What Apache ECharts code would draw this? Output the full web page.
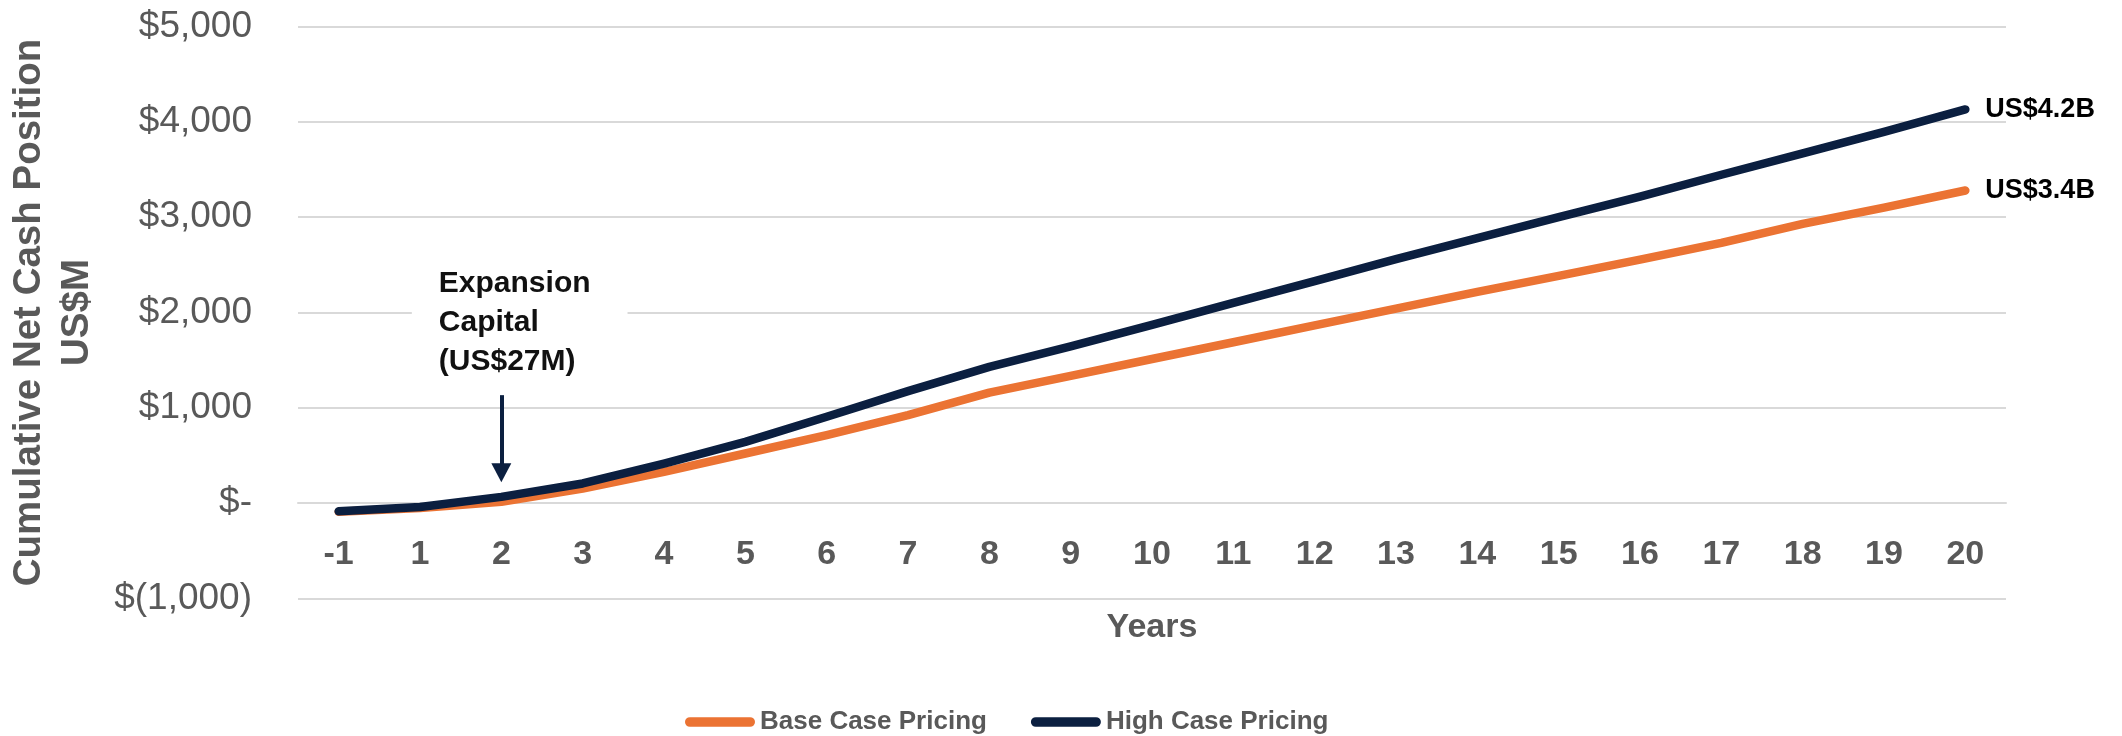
<!DOCTYPE html>
<html>
<head>
<meta charset="utf-8">
<script src="https://cdn.jsdelivr.net/npm/echarts@6/dist/echarts.min.js"></script>
<style>
  html, body { margin: 0; padding: 0; background: #ffffff; }
  #chart { width: 2122px; height: 736px; }
</style>
</head>
<body>
<div id="chart"></div>
<script>
// ---- Data ----
const years = ['-1','1','2','3','4','5','6','7','8','9','10','11','12','13','14','15','16','17','18','19','20'];
const baseCase = [-90, -50, 14, 154, 329, 521, 713, 923, 1160, 1336, 1512, 1688, 1865, 2041, 2217, 2385, 2555, 2730, 2930, 3100, 3280];
const highCase = [-85, -40, 66, 207, 416, 643, 906, 1175, 1430, 1645, 1870, 2100, 2330, 2560, 2780, 3000, 3215, 3445, 3670, 3895, 4130];
const seriesNames = ['Base Case Pricing', 'High Case Pricing'];
const endLabels = ['US$3.4B', 'US$4.2B'];
const annotationText = ['Expansion', 'Capital', '(US$27M)'];
const annotationYear = '2';
const arrowFrom = 1133;
const arrowTo = 320;
const yMin = -1000, yMax = 5000, yStep = 1000;

const FONT = "'Liberation Sans', Arial, sans-serif";
const GRAY = '#595959';
const ORANGE = '#EB7333';
const NAVY = '#0b1f40';

function fmtY(v) {
  if (v === 0) return '$-';
  const s = Math.abs(v).toLocaleString('en-US');
  return v < 0 ? '$(' + s + ')' : '$' + s;
}

const annIdx = years.indexOf(annotationYear);
const capsule = 'path://M5,0 L67,0 A5,5 0 0 1 67,10 L5,10 A5,5 0 0 1 5,0 Z';

const gridTop = 26.5, gridBottom = 137.5, chartH = 736;
const gridH = chartH - gridTop - gridBottom;
// move category axis up to the zero line of the value axis
const zeroOffset = -gridH * (0 - yMin) / (yMax - yMin);

const chart = echarts.init(document.getElementById('chart'), null, { renderer: 'canvas' });
chart.setOption({
  animation: false,
  backgroundColor: '#ffffff',
  textStyle: { fontFamily: FONT },
  grid: { left: 298, right: 116, top: gridTop, bottom: gridBottom, containLabel: false, outerBoundsMode: 'none' },
  legend: {
    data: seriesNames,
    left: 685, top: 709,
    itemWidth: 70, itemHeight: 10, itemGap: 44,
    padding: 0,
    icon: capsule,
    textStyle: { fontFamily: FONT, fontSize: 26, fontWeight: 'bold', color: GRAY }
  },
  xAxis: {
    type: 'category',
    data: years,
    boundaryGap: true,
    offset: zeroOffset,
    name: 'Years',
    nameLocation: 'middle',
    nameGap: 107,
    nameTextStyle: { fontFamily: FONT, fontSize: 34, fontWeight: 'bold', color: GRAY },
    axisLine: { onZero: false, lineStyle: { color: '#d9d9d9', width: 2 } },
    axisTick: { show: false },
    axisLabel: { margin: 34, fontFamily: FONT, fontSize: 34, fontWeight: 'bold', color: GRAY },
    splitLine: { show: false }
  },
  yAxis: {
    type: 'value',
    min: yMin, max: yMax, interval: yStep,
    name: 'Cumulative Net Cash Position\nUS$M',
    nameLocation: 'middle',
    nameGap: 197,
    nameRotate: 90,
    nameTextStyle: { fontFamily: FONT, fontSize: 38.5, fontWeight: 'bold', color: GRAY, lineHeight: 48 },
    axisLine: { show: false },
    axisTick: { show: false },
    axisLabel: { margin: 46, fontFamily: FONT, fontSize: 37, color: GRAY, formatter: fmtY },
    splitLine: { lineStyle: { color: '#d9d9d9', width: 2 } }
  },
  series: [
    {
      name: seriesNames[0],
      type: 'line',
      data: baseCase,
      symbol: 'none',
      color: ORANGE,
      lineStyle: { width: 8.5, color: ORANGE, cap: 'round', join: 'round' },
      endLabel: {
        show: true, formatter: endLabels[0], distance: 20,
        fontFamily: FONT, fontSize: 27, fontWeight: 'bold', color: '#000'
      },
      markPoint: {
        silent: true,
        symbol: 'circle',
        symbolSize: 1,
        itemStyle: { color: 'rgba(0,0,0,0)' },
        data: [{ coord: [annIdx, arrowFrom] }],
        label: {
          show: true,
          formatter: annotationText.join('\n'),
          position: [-89, -7],
          align: 'left',
          verticalAlign: 'bottom',
          fontFamily: FONT, fontSize: 30, fontWeight: 'bold', color: '#111',
          lineHeight: 39,
          backgroundColor: '#ffffff',
          padding: [6, 37, 6, 27]
        }
      }
    },
    {
      name: seriesNames[1],
      type: 'line',
      data: highCase,
      symbol: 'none',
      color: NAVY,
      lineStyle: { width: 8.5, color: NAVY, cap: 'round', join: 'round' },
      endLabel: {
        show: true, formatter: endLabels[1], distance: 20,
        fontFamily: FONT, fontSize: 27, fontWeight: 'bold', color: '#000'
      },
      markLine: {
        silent: true,
        symbol: ['none', 'triangle'],
        symbolSize: [20, 19],
        label: { show: false },
        lineStyle: { color: NAVY, width: 4, type: 'solid' },
        data: [[{ coord: [annIdx, arrowFrom] }, { coord: [annIdx, arrowTo] }]]
      }
    }
  ]
});
</script>
</body>
</html>
